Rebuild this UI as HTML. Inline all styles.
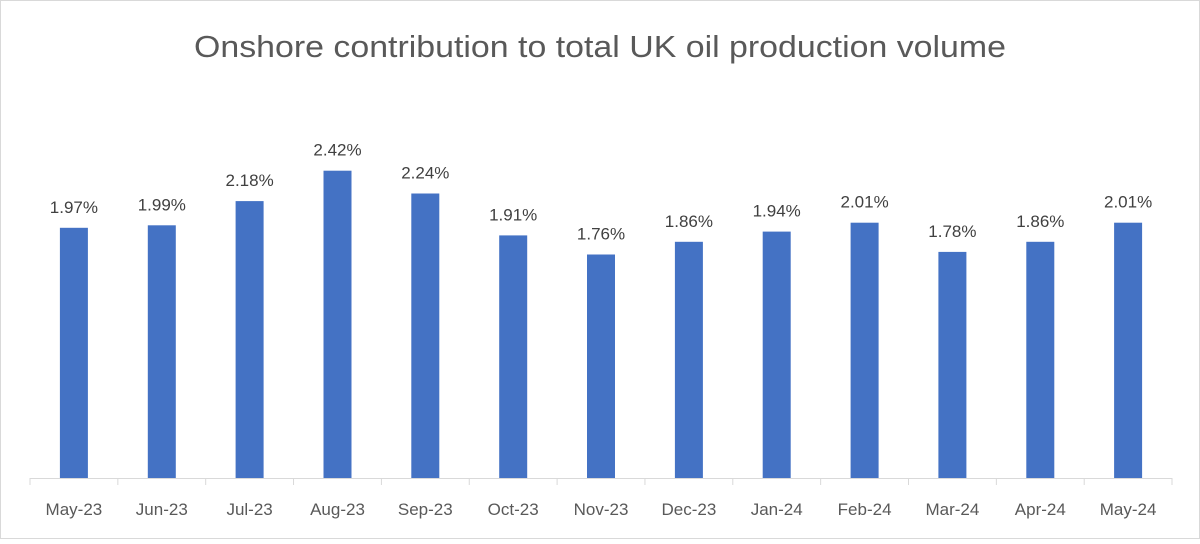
<!DOCTYPE html><html><head><style>body{margin:0}</style></head><body>
<svg width="1200" height="539" xmlns="http://www.w3.org/2000/svg" font-family="Liberation Sans, sans-serif" fill="#595959">
<rect x="0.5" y="0.5" width="1199" height="538" fill="#fff" stroke="#d9d9d9"/>
<text x="600" y="57" font-size="31" text-anchor="middle" textLength="812" lengthAdjust="spacingAndGlyphs">Onshore contribution to total UK oil production volume</text>
<g stroke="#d9d9d9">
<line x1="30" y1="478.5" x2="1172" y2="478.5"/>
<line x1="30" y1="478" x2="30" y2="485"/><line x1="117.85" y1="478" x2="117.85" y2="485"/><line x1="205.7" y1="478" x2="205.7" y2="485"/><line x1="293.55" y1="478" x2="293.55" y2="485"/><line x1="381.4" y1="478" x2="381.4" y2="485"/><line x1="469.25" y1="478" x2="469.25" y2="485"/><line x1="557.1" y1="478" x2="557.1" y2="485"/><line x1="644.95" y1="478" x2="644.95" y2="485"/><line x1="732.8" y1="478" x2="732.8" y2="485"/><line x1="820.65" y1="478" x2="820.65" y2="485"/><line x1="908.5" y1="478" x2="908.5" y2="485"/><line x1="996.35" y1="478" x2="996.35" y2="485"/><line x1="1084.2" y1="478" x2="1084.2" y2="485"/><line x1="1172" y1="478" x2="1172" y2="485"/>
</g>
<g fill="#4472c4">
<rect x="59.9" y="227.8" width="28" height="250.2"/>
<rect x="147.8" y="225.3" width="28" height="252.7"/>
<rect x="235.6" y="201.1" width="28" height="276.9"/>
<rect x="323.5" y="170.7" width="28" height="307.3"/>
<rect x="411.3" y="193.5" width="28" height="284.5"/>
<rect x="499.2" y="235.4" width="28" height="242.6"/>
<rect x="587.0" y="254.5" width="28" height="223.5"/>
<rect x="674.9" y="241.8" width="28" height="236.2"/>
<rect x="762.7" y="231.6" width="28" height="246.4"/>
<rect x="850.6" y="222.7" width="28" height="255.3"/>
<rect x="938.4" y="251.9" width="28" height="226.1"/>
<rect x="1026.3" y="241.8" width="28" height="236.2"/>
<rect x="1114.1" y="222.7" width="28" height="255.3"/>
</g>
<g font-size="17" text-anchor="middle" fill="#404040">
<text x="73.9" y="212.8">1.97%</text>
<text x="161.8" y="210.3">1.99%</text>
<text x="249.6" y="186.1">2.18%</text>
<text x="337.5" y="155.7">2.42%</text>
<text x="425.3" y="178.5">2.24%</text>
<text x="513.2" y="220.4">1.91%</text>
<text x="601.0" y="239.5">1.76%</text>
<text x="688.9" y="226.8">1.86%</text>
<text x="776.7" y="216.6">1.94%</text>
<text x="864.6" y="207.7">2.01%</text>
<text x="952.4" y="236.9">1.78%</text>
<text x="1040.3" y="226.8">1.86%</text>
<text x="1128.1" y="207.7">2.01%</text>
</g>
<g font-size="17" text-anchor="middle">
<text x="73.9" y="515">May-23</text>
<text x="161.8" y="515">Jun-23</text>
<text x="249.6" y="515">Jul-23</text>
<text x="337.5" y="515">Aug-23</text>
<text x="425.3" y="515">Sep-23</text>
<text x="513.2" y="515">Oct-23</text>
<text x="601.0" y="515">Nov-23</text>
<text x="688.9" y="515">Dec-23</text>
<text x="776.7" y="515">Jan-24</text>
<text x="864.6" y="515">Feb-24</text>
<text x="952.4" y="515">Mar-24</text>
<text x="1040.3" y="515">Apr-24</text>
<text x="1128.1" y="515">May-24</text>
</g>
</svg></body></html>
